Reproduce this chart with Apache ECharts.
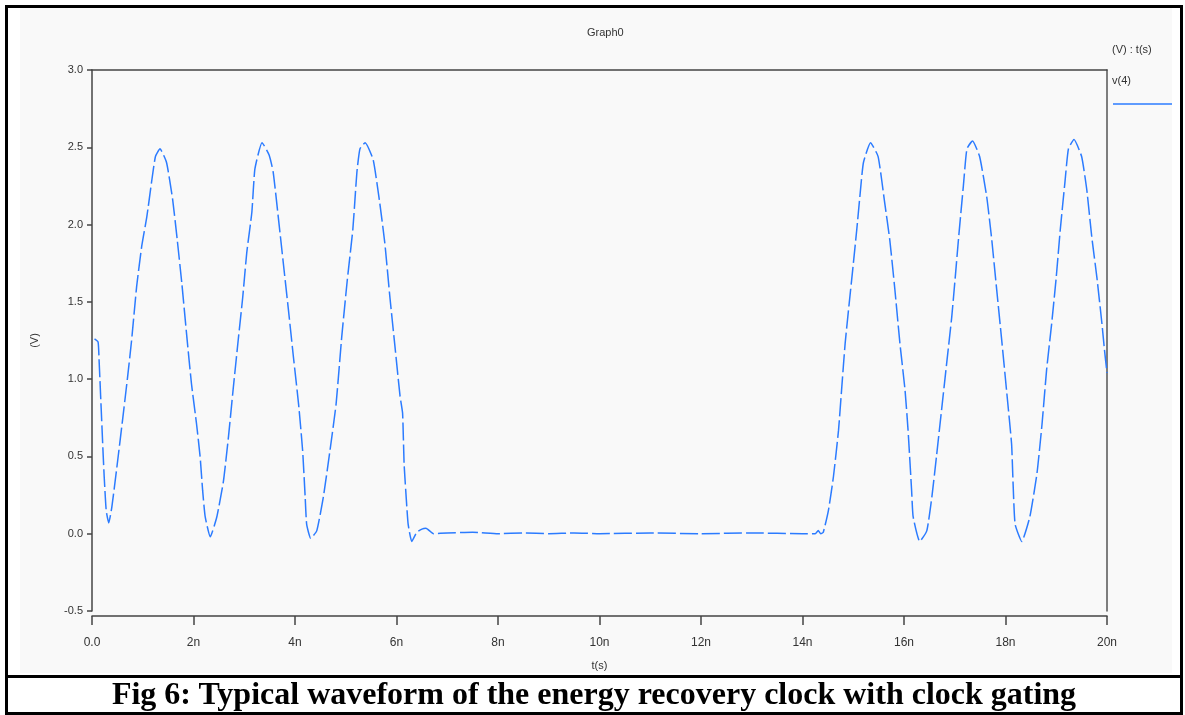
<!DOCTYPE html>
<html>
<head>
<meta charset="utf-8">
<script src="https://cdn.jsdelivr.net/npm/echarts@6/dist/echarts.min.js"></script>
<style>
  body { margin: 0; background: #fff; }
  #frame { position: absolute; left: 5px; top: 5px; width: 1178px; height: 710px; border: 3px solid #000; box-sizing: border-box; }
  #panel { position: absolute; left: 20px; top: 8px; width: 1152px; height: 665px; background: #f9f9f9; }
  #chart { position: absolute; left: 0; top: 0; width: 1185px; height: 715px; }
  #rule { position: absolute; left: 5px; top: 675px; width: 1178px; height: 3px; background: #000; }
  #caption { position: absolute; left: 5px; top: 677px; width: 1178px; text-align: center;
    font-family: "Liberation Serif", "Times New Roman", serif; font-weight: bold; font-size: 32px; line-height: 32px; color: #000; }
</style>
</head>
<body>
<div id="panel"></div>
<div id="chart"></div>
<div id="frame"></div>
<div id="rule"></div>
<div id="caption">Fig 6: Typical waveform of the energy recovery clock with clock gating</div>
<script>
// time in ns, voltage in V
const times = [0.05, 0.12, 0.14, 0.22, 0.24, 0.28, 0.33, 0.39, 0.49, 0.60, 0.70, 0.78, 0.88, 0.98, 1.08, 1.18, 1.25, 1.34,
  1.47, 1.59, 1.68, 1.77, 1.87, 1.96, 2.06, 2.13, 2.18, 2.23, 2.33, 2.46, 2.59, 2.69, 2.78, 2.88, 2.97, 3.05, 3.15, 3.21, 3.35,
  3.49, 3.57, 3.67, 3.77, 3.87, 3.97, 4.07, 4.15, 4.20, 4.23, 4.31, 4.43, 4.56, 4.69, 4.81, 4.92, 5.03, 5.14, 5.22, 5.28, 5.38,
  5.54, 5.67, 5.77, 5.87, 5.97, 6.07, 6.12, 6.15, 6.20, 6.23, 6.30, 6.40, 6.50, 6.58, 6.73, 7.0, 7.5, 8.0, 8.5, 9.0, 9.5, 10,
  11, 12, 13, 14, 14.25, 14.31, 14.36, 14.41, 14.51, 14.61, 14.71, 14.77, 14.84, 14.92, 14.99, 15.07, 15.13, 15.20, 15.34,
  15.49, 15.62, 15.72, 15.82, 15.92, 16.02, 16.08, 16.15, 16.18, 16.31, 16.45, 16.55, 16.64, 16.74, 16.84, 16.94, 17.01, 17.08,
  17.17, 17.24, 17.35, 17.49, 17.63, 17.73, 17.82, 17.92, 18.02, 18.12, 18.15, 18.19, 18.32, 18.48, 18.62, 18.72, 18.81, 18.91,
  19.00, 19.08, 19.17, 19.24, 19.35, 19.50, 19.60, 19.70, 19.80, 19.90, 19.95, 20.0];
const v4 = [1.26, 1.24, 1.12, 0.51, 0.37, 0.15, 0.07, 0.17, 0.43, 0.73, 1.01, 1.25, 1.60, 1.86, 2.05, 2.29, 2.44, 2.49,
  2.40, 2.16, 1.90, 1.62, 1.27, 0.97, 0.71, 0.50, 0.28, 0.11, -0.02, 0.11, 0.34, 0.63, 0.93, 1.25, 1.53, 1.82, 2.08, 2.36, 2.53,
  2.45, 2.34, 2.05, 1.75, 1.45, 1.14, 0.84, 0.54, 0.24, 0.06, -0.03, 0.02, 0.24, 0.54, 0.84, 1.27, 1.64, 1.97, 2.34, 2.49, 2.53,
  2.42, 2.14, 1.88, 1.53, 1.21, 0.89, 0.78, 0.45, 0.19, 0.06, -0.05, 0.01, 0.03, 0.035, 0.0, 0.005, 0.01, 0.0, 0.005, 0.0, 0.005, 0,
  0.005, 0, 0.005, 0, 0, 0.02, 0.0, 0.01, 0.15, 0.37, 0.67, 0.93, 1.23, 1.49, 1.71, 1.97, 2.18, 2.40, 2.53,
  2.44, 2.14, 1.90, 1.58, 1.23, 0.93, 0.67, 0.28, 0.11, -0.05, 0.02, 0.24, 0.50, 0.80, 1.10, 1.40, 1.66, 1.93,
  2.25, 2.49, 2.54, 2.44, 2.18, 1.90, 1.60, 1.27, 0.93, 0.58, 0.32, 0.06, -0.05, 0.11, 0.39, 0.71, 1.06, 1.36,
  1.66, 1.97, 2.27, 2.49, 2.55, 2.44, 2.23, 1.92, 1.66, 1.36, 1.19, 1.04];

const xTicks = [0, 2, 4, 6, 8, 10, 12, 14, 16, 18, 20];
const xTickLabels = ['0.0', '2n', '4n', '6n', '8n', '10n', '12n', '14n', '16n', '18n', '20n'];
const yTicks = [3.0, 2.5, 2.0, 1.5, 1.0, 0.5, 0.0, -0.5];
const yTickLabels = ['3.0', '2.5', '2.0', '1.5', '1.0', '0.5', '0.0', '-0.5'];

const points = times.map((t, i) => [t, v4[i]]);
const labelFont = { fontFamily: 'Liberation Sans, Arial, sans-serif', fontSize: 11, color: '#333' };

const chart = echarts.init(document.getElementById('chart'));
chart.setOption({
  backgroundColor: 'transparent',
  animation: false,
  title: { text: 'Graph0', left: 582, top: 22, textStyle: { ...labelFont, fontWeight: 'normal' } },
  grid: { left: 92, top: 70, right: 78, bottom: 104 },
  xAxis: [{
    type: 'value', min: 0, max: 20, interval: 2, position: 'bottom', offset: 5,
    name: 't(s)', nameLocation: 'middle', nameGap: 44, nameTextStyle: labelFont,
    axisLine: { onZero: false, lineStyle: { color: '#444', width: 1.5 } },
    axisTick: { length: 9, lineStyle: { color: '#444', width: 1.5 } },
    axisLabel: { ...labelFont, fontSize: 12, margin: 21, formatter: v => xTickLabels[xTicks.indexOf(v)] },
    splitLine: { show: false }
  }, {
    type: 'value', min: 0, max: 20, position: 'top',
    axisLine: { show: true, onZero: false, lineStyle: { color: '#444', width: 1.5 } },
    axisTick: { show: false }, axisLabel: { show: false }, splitLine: { show: false }
  }],
  yAxis: [{
    type: 'value', min: -0.5, max: 3.0, interval: 0.5,
    name: '(V)', nameLocation: 'middle', nameGap: 52, nameRotate: 90, nameTextStyle: labelFont,
    axisLine: { show: true, onZero: false, lineStyle: { color: '#444', width: 1.5 } },
    axisTick: { show: true, length: 5, lineStyle: { color: '#444', width: 1.5 } },
    axisLabel: { ...labelFont, margin: 9, formatter: v => yTickLabels[yTicks.indexOf(v)] },
    splitLine: { show: false }
  }, {
    type: 'value', min: -0.5, max: 3.0, position: 'right',
    axisLine: { show: true, onZero: false, lineStyle: { color: '#555', width: 1.5 } },
    axisTick: { show: false }, axisLabel: { show: false }, splitLine: { show: false }
  }],
  graphic: [
    { type: 'text', left: 1112, top: 44, style: { text: '(V) : t(s)', font: '11px Liberation Sans, Arial, sans-serif', fill: '#333' } },
    { type: 'text', left: 1112, top: 75, style: { text: 'v(4)', font: '11px Liberation Sans, Arial, sans-serif', fill: '#333' } },
    { type: 'line', shape: { x1: 1113, y1: 104, x2: 1172, y2: 104 }, style: { stroke: '#2b7bff', lineWidth: 1.5 } }
  ],
  series: [{
    name: 'v(4)', type: 'line', xAxisIndex: 0, yAxisIndex: 0,
    data: points, showSymbol: false, smooth: 0.15,
    lineStyle: { color: '#2b7bff', width: 1.5, type: [18, 4] }
  }]
});
</script>
</body>
</html>
